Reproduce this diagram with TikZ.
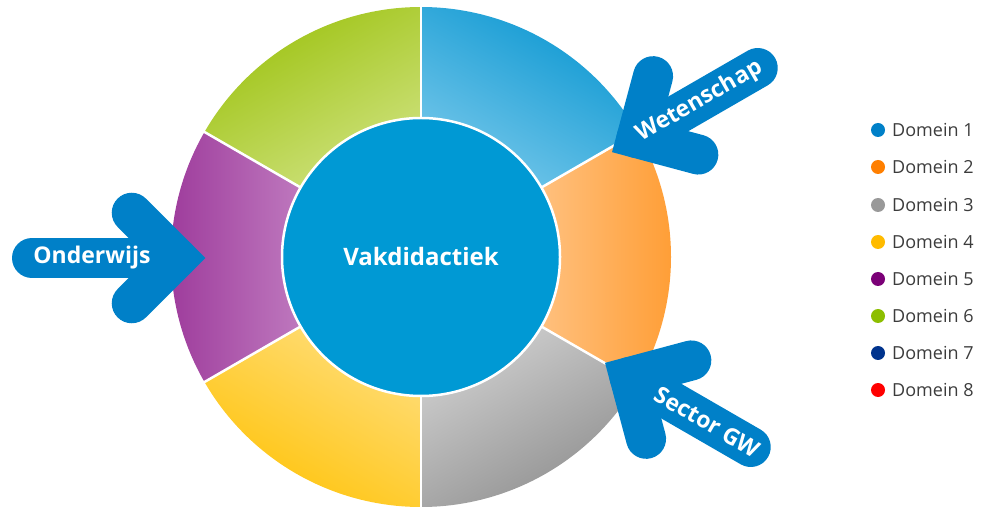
\documentclass[tikz,border=0pt]{standalone}
\usepackage{fontspec}
\setmainfont{Open Sans}
\usetikzlibrary{calc}
\definecolor{arrowblue}{HTML}{0080C8}
\definecolor{coreblue}{HTML}{0099D4}
\definecolor{bluelight}{HTML}{6CC3E8}
\definecolor{bluedark}{HTML}{1FA0D6}
\definecolor{orangelight}{HTML}{FFC282}
\definecolor{orangedark}{HTML}{FF9E36}
\definecolor{graylight}{HTML}{CACACA}
\definecolor{graydark}{HTML}{9B9B9B}
\definecolor{yellowlight}{HTML}{FFDB70}
\definecolor{yellowdark}{HTML}{FFC81E}
\definecolor{purplelight}{HTML}{C07CC0}
\definecolor{purpledark}{HTML}{9E3C9C}
\definecolor{greenlight}{HTML}{CADF74}
\definecolor{greendark}{HTML}{A6C825}
\definecolor{dom1}{HTML}{0080C8}
\definecolor{dom2}{HTML}{FF7F00}
\definecolor{dom3}{HTML}{999999}
\definecolor{dom4}{HTML}{FFBB00}
\definecolor{dom5}{HTML}{7B0077}
\definecolor{dom6}{HTML}{8CBE00}
\definecolor{dom7}{HTML}{00338D}
\definecolor{dom8}{HTML}{FF0000}
\definecolor{legtext}{HTML}{3C3C3C}
\tikzset{
  arrowstroke/.style={draw=arrowblue, line width=40pt, line cap=round, line join=miter},
  arrowlabel/.style={text=white, font=\bfseries\fontsize{23}{27}\selectfont, inner sep=0pt},
  legdot/.style={circle, minimum size=14pt, inner sep=0pt},
  legtxt/.style={anchor=west, text=legtext, font=\fontsize{18}{21}\selectfont, inner sep=0pt},
  divider/.style={draw=white, line width=2.5pt}
}
\newcommand{\ringseg}[4]{% start angle, end angle, light, dark
  \begin{scope}
    \clip ([shift={(#1:139pt)}]C) arc[start angle=#1, end angle=#2, radius=139pt]
      -- ([shift={(#2:250pt)}]C) arc[start angle=#2, end angle=#1, radius=250pt] -- cycle;
    \begin{scope}[transform canvas={shift={(421pt,249pt)}, rotate={(#1+#2)/2}}]
      \shade[left color=#3, right color=#4] (112,-270) rectangle (252,270);
    \end{scope}
  \end{scope}}
\begin{document}
\begin{tikzpicture}[x=1pt,y=1pt]
\useasboundingbox (0,0) rectangle (984,506);
\coordinate (C) at (421,249);
% ring
\ringseg{30}{90}{bluelight}{bluedark}
\ringseg{-30}{30}{orangelight}{orangedark}
\ringseg{-90}{-30}{graylight}{graydark}
\ringseg{-150}{-90}{yellowlight}{yellowdark}
\ringseg{150}{210}{purplelight}{purpledark}
\ringseg{90}{150}{greenlight}{greendark}
\foreach \a in {30,90,150,210,270,330}
  \draw[divider] ([shift={(\a:137pt)}]C) -- ([shift={(\a:252pt)}]C);
% core
\node[circle, fill=coreblue, draw=white, line width=2.5pt, minimum size=278pt, inner sep=0pt,
  text=white, font=\bfseries\fontsize{24}{28}\selectfont] (core) at (C) {Vakdidactiek};
% Onderwijs arrow
\coordinate (oA) at (177,248);
\coordinate (oW1) at ($(oA)+(135:64pt)$);
\coordinate (oW2) at ($(oA)+(225:64pt)$);
\coordinate (oE) at ($(oA)+(180:145pt)$);
\draw[arrowstroke] (oW1) -- (oA) -- (oW2);
\draw[arrowstroke] (oE) -- (oA);
\node[arrowlabel] (onderwijs) at (92,248) {Onderwijs};
% Wetenschap arrow
\coordinate (wA) at (636.5,368);
\coordinate (wW1) at ($(wA)+(75:64pt)$);
\coordinate (wW2) at ($(wA)+(-15:64pt)$);
\coordinate (wE) at ($(wA)+(30:140pt)$);
\draw[arrowstroke] (wW1) -- (wA) -- (wW2);
\draw[arrowstroke] (wE) -- (wA);
\node[arrowlabel, rotate=30] (wetenschap) at ($(wA)+(30:73pt)$) {Wetenschap};
% Sector GW arrow
\coordinate (sA) at (629.5,129);
\coordinate (sW1) at ($(sA)+(15:64pt)$);
\coordinate (sW2) at ($(sA)+(-75:64pt)$);
\coordinate (sE) at ($(sA)+(-30:140pt)$);
\draw[arrowstroke] (sW1) -- (sA) -- (sW2);
\draw[arrowstroke] (sE) -- (sA);
\node[arrowlabel, rotate=-30] (sector) at ($(sA)+(-30:90pt)$) {Sector GW};
% legend
\foreach \i/\py in {1/130,2/167,3/205,4/242,5/279,6/316,7/353,8/390}{
  \node[legdot, fill=dom\i] (dot\i) at (878,506-\py) {};
  \node[legtxt] (leg\i) at (892,506-\py) {Domein \i};
}
\end{tikzpicture}
\end{document}
